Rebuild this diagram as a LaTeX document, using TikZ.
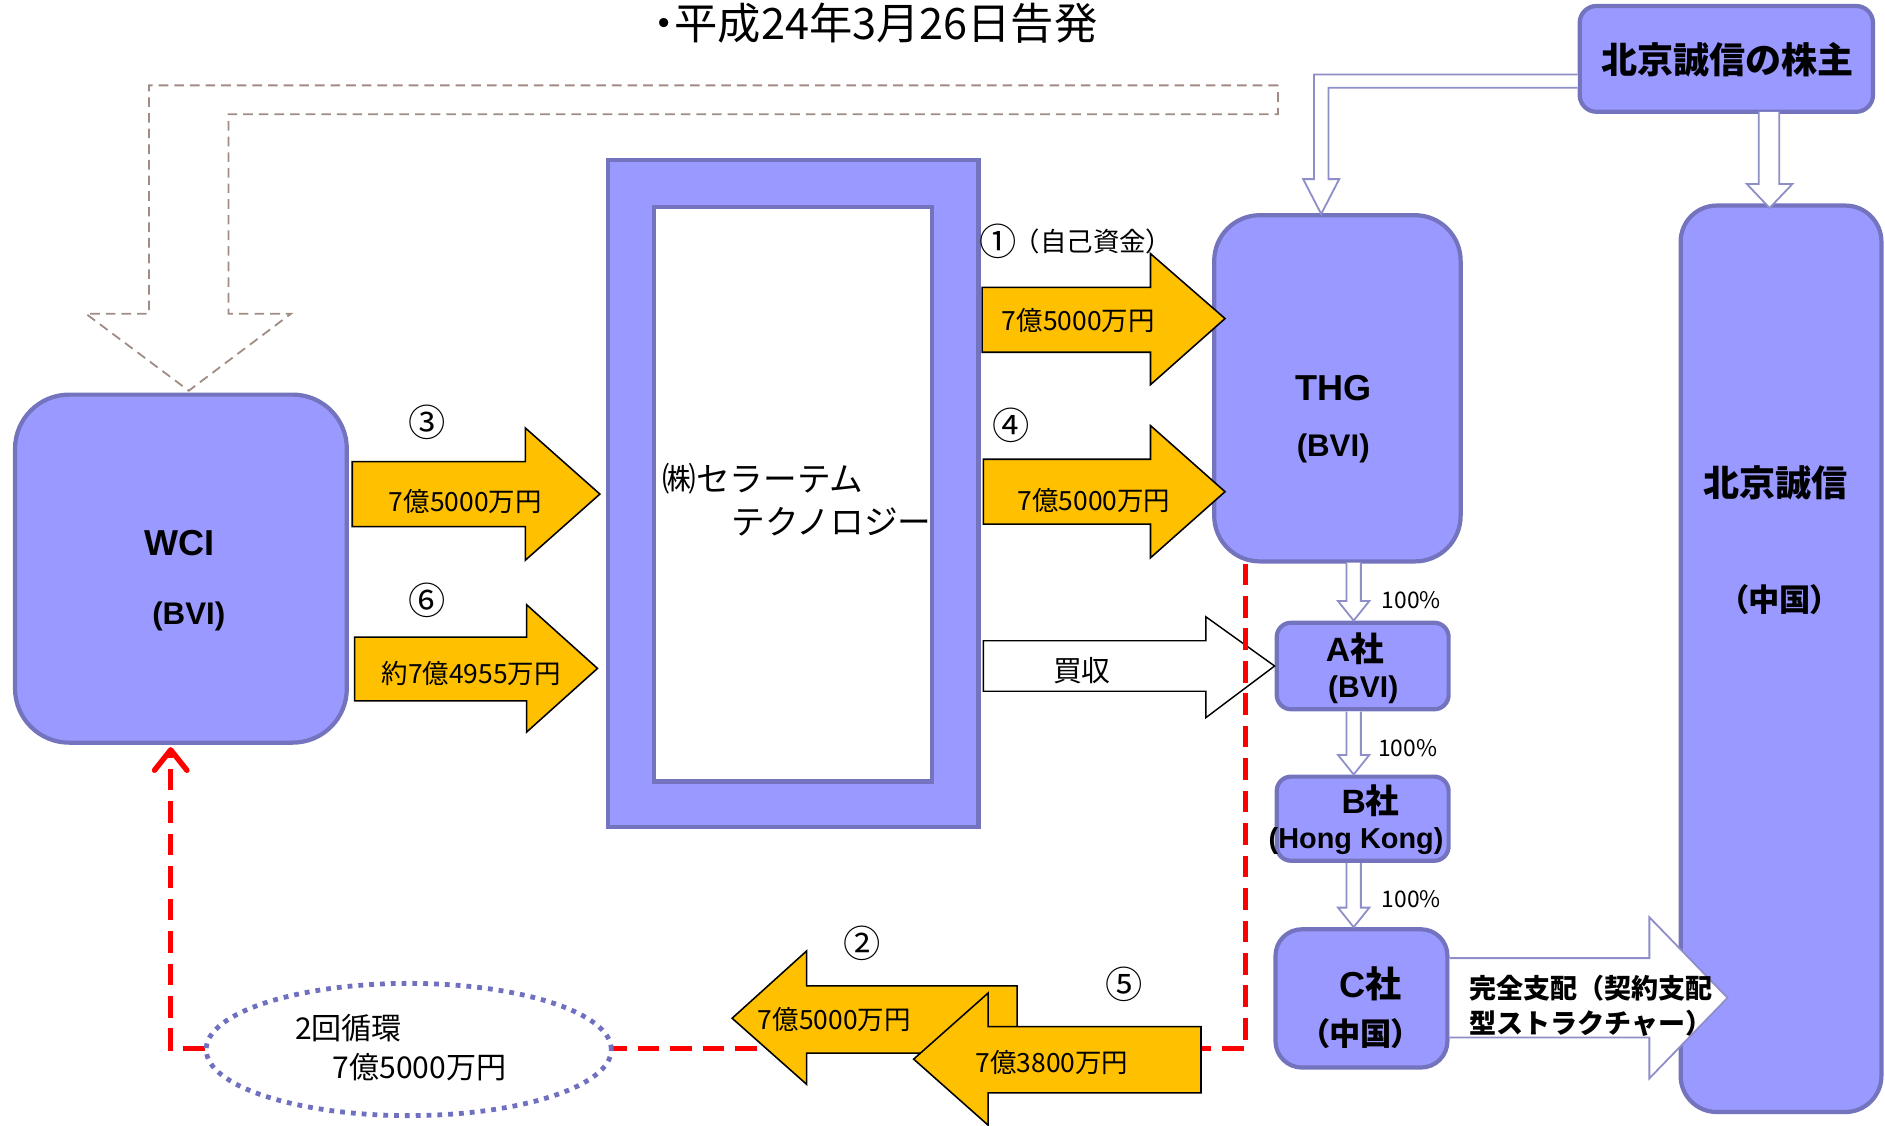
\documentclass[tikz,border=0pt]{standalone}
\usepackage{fontspec}
\setmainfont{Noto Sans CJK JP}[RawFeature=+palt]
\newfontfamily\fw{Noto Sans CJK JP}
\newfontfamily\latf{Liberation Sans}
\usetikzlibrary{shapes.geometric,arrows.meta}
\definecolor{boxfill}{HTML}{9999FF}
\definecolor{boxline}{HTML}{7373BE}
\definecolor{yel}{HTML}{FFC000}
\definecolor{hline}{HTML}{8E8EC8}
\definecolor{brn}{HTML}{A08C84}
\definecolor{dotc}{HTML}{7070C0}
\newcommand\fs[1]{\fontsize{#1}{#1}\selectfont}
\begin{document}
\begin{tikzpicture}[x=1pt,y=-1pt,
  box/.style={draw=boxline, fill=boxfill, line width=3.5pt, inner sep=0pt},
  yarrow/.style={draw=black, fill=yel, line width=1.3pt, line join=miter},
  harrow/.style={draw=hline, fill=white, line width=1.5pt},
  buyarrow/.style={draw=black, fill=white, line width=1.2pt},
  brnarrow/.style={draw=brn, line width=1.5pt, dash pattern=on 8pt off 5pt},
  redline/.style={draw=red, line width=4.5pt, dash pattern=on 18pt off 9pt},
  lbl/.style={inner sep=0pt, font=\fs{22}},
  num/.style={inner sep=0pt, font=\fw\fs{31}},
  btxt/.style={inner sep=0pt, font=\bfseries\fs{30}},
  ltxt/.style={inner sep=0pt, font=\latf\bfseries\fs{30}}
]
\useasboundingbox (0,0) rectangle (1568,936);

% title
\node[inner sep=0pt, font=\fs{36}] (title) at (728,19) {・平成24年3月26日告発};

% brown dashed hollow arrow
\draw[brnarrow] (1063,71) -- (124,71) -- (124,261) -- (71.5,261) -- (157,325)
  -- (242,261) -- (190,261) -- (190,95) -- (1063,95) -- cycle;

% boxes
\node[box, minimum width=276pt, minimum height=289.5pt, rounded corners=45pt] (wci) at (150.5,473) {};
\node[box, minimum width=205pt, minimum height=288pt, rounded corners=38pt] (thg) at (1112.5,323) {};
\node[box, minimum width=167pt, minimum height=754pt, rounded corners=30pt] (bj) at (1481.5,548) {};
\node[box, minimum width=244pt, minimum height=88pt, rounded corners=14pt] (sh) at (1436,49) {};
\node[box, minimum width=143pt, minimum height=72pt, rounded corners=12pt] (ca) at (1133.5,554) {};
\node[box, minimum width=143pt, minimum height=70pt, rounded corners=12pt] (cb) at (1133.5,681) {};
\node[box, minimum width=143pt, minimum height=115pt, rounded corners=22pt] (cc) at (1132.5,830.5) {};
\node[box, minimum width=308pt, minimum height=555pt] (sera) at (660,410.5) {};
\node[draw=boxline, fill=white, line width=3.5pt, inner sep=0pt, minimum width=231pt, minimum height=478pt] (serain) at (659.5,411) {};

% hollow arrows from shareholders
\draw[harrow] (sh.west |- 0,62) -- (1093,62) -- (1093,149) -- (1084,149) -- (1099,178)
  -- (1114,149) -- (1105,149) -- (1105,73) -- (sh.west |- 0,73);
\draw[harrow] (1463,93) -- (1463,153) -- (1453,153) -- (1472,173) -- (1491,153) -- (1480,153) -- (1480,93);

% acquisition arrow
\draw[buyarrow] (818,533) -- (1003,533) -- (1003,513) -- (ca.west) -- (1003,597) -- (1003,575) -- (818,575) -- cycle;

% red dashed loop line
\draw[redline, -{Straight Barb[length=17pt,width=27pt,round]}]
  ([xshift=28pt]thg.south west) |- ([xshift=-8.5pt]wci.south |- 0,872) -- ([xshift=-8.5pt,yshift=-2pt]wci.south);

% yellow arrows
\draw[yarrow] (817,239) -- (957,239) -- (957,211) -- (1019,265) -- (957,320) -- (957,293) -- (817,293) -- cycle;
\draw[yarrow] (818,382) -- (957,382) -- (957,354) -- (1019,409) -- (957,464) -- (957,436) -- (818,436) -- cycle;
\draw[yarrow] (293,384) -- (437,384) -- (437,356) -- (499,411) -- (437,466) -- (437,438) -- (293,438) -- cycle;
\draw[yarrow] (295,530) -- (438,530) -- (438,503) -- (497,556) -- (438,609) -- (438,583) -- (295,583) -- cycle;
\draw[yarrow] (846,820) -- (671,820) -- (671,791) -- (609,847) -- (671,902) -- (671,876) -- (846,876) -- cycle;
\draw[yarrow] (999,854) -- (822,854) -- (822,826) -- (760,881) -- (822,936) -- (822,909) -- (999,909) -- cycle;

% loop ellipse
\node[ellipse, draw=dotc, fill=white, line width=4pt, dash pattern=on 4pt off 5pt,
  minimum width=337pt, minimum height=110pt, inner sep=0pt] (loop) at (340,873) {};

% ownership arrows
\draw[harrow] (1120,468) -- (1120,500) -- (1113,500) -- (ca.north -| 1126,0) -- (1139,500) -- (1132,500) -- (1132,468);
\draw[harrow] (1120,592) -- (1120,628) -- (1113,628) -- (cb.north -| 1126,0) -- (1139,628) -- (1132,628) -- (1132,592);
\draw[harrow] (1120,718) -- (1120,755) -- (1113,755) -- (cc.north -| 1126,0) -- (1139,755) -- (1132,755) -- (1132,718);

% control arrow C -> Beijing
\draw[harrow] (cc.east |- 0,797) -- (1372,797) -- (1372,763) -- (1437,830) -- (1372,897) -- (1372,863) -- (cc.east |- 0,863);

% texts
\node[ltxt] (wci1) at (149,452) {WCI};
\node[ltxt, font=\latf\bfseries\fs{26}] (wci2) at (157,513) {(BVI)};
\node[ltxt] (thg1) at (1109,323) {THG};
\node[ltxt, font=\latf\bfseries\fs{26}] (thg2) at (1109,373) {(BVI)};
\node[btxt] (bj1) at (1477,402) {北京誠信};
\node[btxt, font=\bfseries\fs{26}] (bj2) at (1480,499) {（中国）};
\node[btxt] (sh1) at (1437,50) {北京誠信の株主};
\node[btxt, font=\bfseries\fs{28}] (ca1) at (1127,540) {{\latf A}社};
\node[ltxt, font=\latf\bfseries\fs{25}] (ca2) at (1134,574) {(BVI)};
\node[btxt, font=\bfseries\fs{28}] (cb1) at (1140,666) {{\latf B}社};
\node[ltxt, font=\latf\bfseries\fs{24}] (cb2) at (1128,700) {(Hong Kong)};
\node[btxt, font=\bfseries\fs{30}] (cc1) at (1140,818) {{\latf C}社};
\node[btxt, font=\bfseries\fs{26}] (cc2) at (1132,860) {（中国）};
\node[lbl, font=\fs{19}] (p1) at (1174,499) {100\%};
\node[lbl, font=\fs{19}] (p2) at (1171,622) {100\%};
\node[lbl, font=\fs{19}] (p3) at (1174,748) {100\%};
\node[lbl, font=\fw\fs{28}, anchor=west] (s1) at (551,398) {㈱セラーテム};
\node[lbl, font=\fw\fs{28}, anchor=east] (s2) at (775,434) {テクノロジー};
\node[num] (n1) at (830,201) {①};
\node[lbl, font=\fw\fs{22}, anchor=west] (n1b) at (843,201) {（自己資金）};
\node[lbl] (l1) at (897,267) {7億5000万円};
\node[num] (n4) at (841,354) {④};
\node[lbl] (l4) at (910,416) {7億5000万円};
\node[num] (n3) at (355,351) {③};
\node[lbl] (l3) at (387,417) {7億5000万円};
\node[num] (n6) at (355,499) {⑥};
\node[lbl] (l6) at (392,560) {約7億4955万円};
\node[num] (n2) at (717,785) {②};
\node[lbl] (l2) at (694,848) {7億5000万円};
\node[num] (n5) at (935,819) {⑤};
\node[lbl] (l5) at (875,884) {7億3800万円};
\node[lbl, font=\fs{24}] (buy) at (900,558) {買収};
\node[lbl, font=\fs{25}] (lp1) at (290,855) {2回循環};
\node[lbl, font=\fs{25}] (lp2) at (349,888) {7億5000万円};
\node[lbl, font=\fw\bfseries\fs{22.5}, anchor=west] (ct1) at (1222,822) {完全支配（契約支配};
\node[lbl, font=\fw\bfseries\fs{22.5}, anchor=west] (ct2) at (1222,851) {型ストラクチャー）};
\end{tikzpicture}
\end{document}
